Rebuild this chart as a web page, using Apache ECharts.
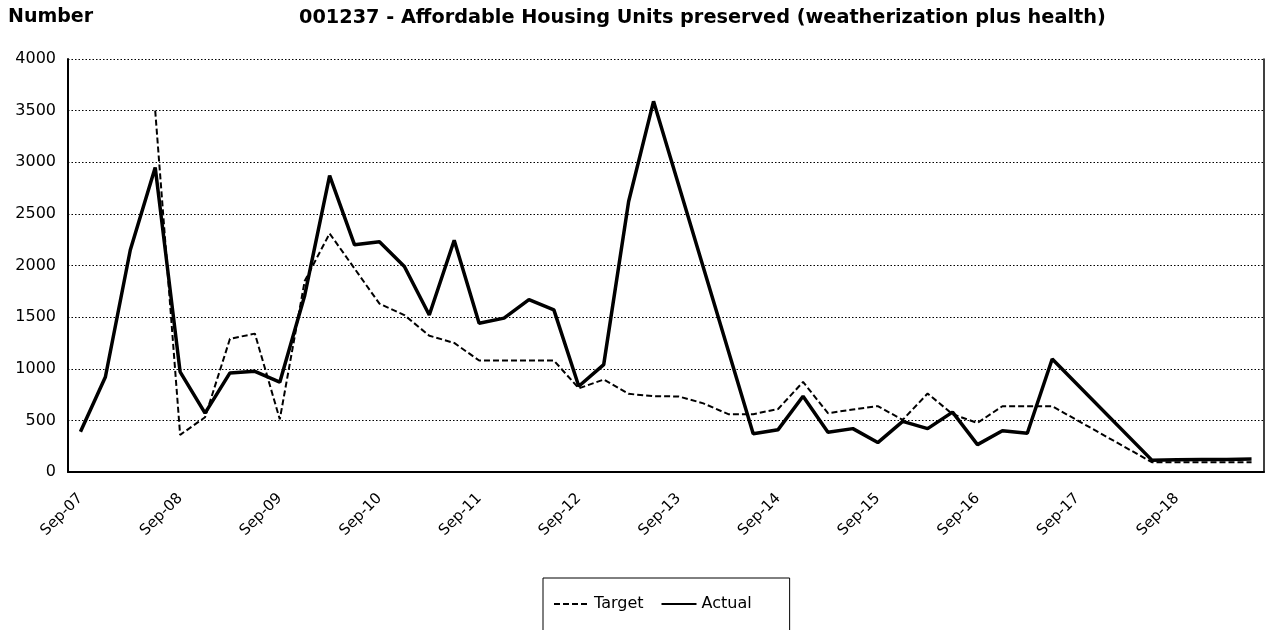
<!DOCTYPE html>
<html>
<head>
<meta charset="utf-8">
<script src="https://cdn.jsdelivr.net/npm/echarts@6/dist/echarts.min.js"></script>
<style>
  html, body { margin: 0; padding: 0; background: #fff; }
  #chart { width: 1269px; height: 630px; }
</style>
</head>
<body>
<div id="chart"></div>
<script>
// quarterly categories, one label every 4th shown
var quarters = [
  'Sep-07', 'Dec-07', 'Mar-08', 'Jun-08', 'Sep-08', 'Dec-08', 'Mar-09', 'Jun-09',
  'Sep-09', 'Dec-09', 'Mar-10', 'Jun-10', 'Sep-10', 'Dec-10', 'Mar-11', 'Jun-11',
  'Sep-11', 'Dec-11', 'Mar-12', 'Jun-12', 'Sep-12', 'Dec-12', 'Mar-13', 'Jun-13',
  'Sep-13', 'Dec-13', 'Mar-14', 'Jun-14', 'Sep-14', 'Dec-14', 'Mar-15', 'Jun-15',
  'Sep-15', 'Dec-15', 'Mar-16', 'Jun-16', 'Sep-16', 'Dec-16', 'Mar-17', 'Jun-17',
  'Sep-17', 'Dec-17', 'Mar-18', 'Jun-18', 'Sep-18', 'Dec-18', 'Mar-19', 'Jun-19'
];

var targetValues = [
  null, null, null, 3500, 360, 530, 1290, 1340,
  510, 1850, 2310, 1970, 1630, 1520, 1320, 1250,
  1080, 1080, 1080, 1080, 810, 895, 757, 734,
  732, 665, 560, 560, 610, 872, 570, 605,
  638, 505, 760, 560, 475, 637, 637, 637,
  null, null, null, 95, 95, 95, 95, 95
];

var actualValues = [
  390, 920, 2150, 2950, 970, 570, 960, 975,
  870, 1710, 2870, 2200, 2230, 1990, 1520, 2245,
  1440, 1490, 1670, 1570, 830, 1040, 2620, 3590,
  null, null, null, 370, 410, 734, 385, 420,
  285, 490, 420, 580, 265, 400, 375, 1095,
  null, null, null, 115, 118, 120, 122, 125
];

var yTicks = { min: 0, max: 4000, step: 500 };

var FONT = 'DejaVu Sans';

var myChart = echarts.init(document.getElementById('chart'));

var option = {
  backgroundColor: '#ffffff',
  animation: false,
  title: [
    {
      text: 'Number',
      left: 8,
      top: 8,
      padding: 0,
      textStyle: { fontFamily: FONT, fontSize: 19, fontWeight: 'bold', color: '#000' }
    },
    {
      text: '001237 - Affordable Housing Units preserved (weatherization plus health)',
      left: 299,
      top: 8,
      padding: 0,
      textStyle: { fontFamily: FONT, fontSize: 19.3, fontWeight: 'bold', color: '#000' }
    }
  ],
  legend: {
    left: 543,
    top: 578,
    padding: [18, 38, 40, 10],
    borderColor: '#000',
    borderWidth: 1,
    itemWidth: 35,
    itemHeight: 14,
    itemGap: 17,
    itemStyle: { opacity: 0 },  // only the line, no marker
    textStyle: { fontFamily: FONT, fontSize: 16, color: '#000' },
    data: ['Target', 'Actual']
  },
  grid: {
    left: 68,
    right: 5,
    top: 59,
    bottom: 158
  },
  xAxis: {
    type: 'category',
    data: quarters,
    boundaryGap: true,
    axisLine: { show: true, lineStyle: { color: '#000', width: 2 } },
    axisTick: { show: false },
    axisLabel: {
      interval: 3,
      rotate: 45,
      margin: 24,
      fontFamily: FONT,
      fontSize: 15,
      color: '#000'
    },
    splitLine: { show: false }
  },
  yAxis: [
    {
      type: 'value',
      min: yTicks.min,
      max: yTicks.max,
      interval: yTicks.step,
      axisLine: { show: true, lineStyle: { color: '#000', width: 2 } },
      axisTick: { show: false },
      axisLabel: {
        margin: 12,
        fontFamily: FONT,
        fontSize: 16,
        color: '#000',
        formatter: function (v) { return String(v); }
      },
      splitLine: { show: true, lineStyle: { color: '#000', width: 1, type: [1.5, 2] } }
    },
    {
      // right border of the plot
      type: 'value',
      position: 'right',
      min: yTicks.min,
      max: yTicks.max,
      interval: yTicks.step,
      axisLine: { show: true, lineStyle: { color: '#000', width: 1.5 } },
      axisTick: { show: false },
      axisLabel: { show: false },
      splitLine: { show: false }
    }
  ],
  series: [
    {
      name: 'Target',
      type: 'line',
      data: targetValues,
      connectNulls: true,
      symbol: 'none',
      lineStyle: { color: '#000', width: 2, type: [6, 3] },
      itemStyle: { color: '#000' },
      z: 3
    },
    {
      name: 'Actual',
      type: 'line',
      data: actualValues,
      connectNulls: true,
      symbol: 'none',
      lineStyle: { color: '#000', width: 3.5 },
      itemStyle: { color: '#000' },
      z: 2
    }
  ]
};

myChart.setOption(option);
</script>
</body>
</html>
